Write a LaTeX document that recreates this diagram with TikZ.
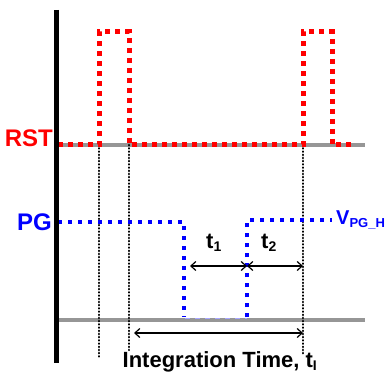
\documentclass[tikz,border=0pt]{standalone}
\usepackage{fontspec}
\setmainfont{Liberation Sans}
\usetikzlibrary{arrows.meta}
\definecolor{rstred}{RGB}{255,0,0}
\definecolor{pgblue}{RGB}{0,0,255}
\definecolor{railgray}{RGB}{150,150,150}
\tikzset{
  rail/.style={draw=railgray,line width=4pt},
  axisline/.style={draw=black,line width=5pt},
  rstsig/.style={draw=rstred,line width=5pt,dash pattern=on 5pt off 5pt},
  pgsig/.style={draw=pgblue,line width=4pt,dash pattern=on 4pt off 6pt},
  pgfaint/.style={draw=pgblue!35,line width=1pt,dash pattern=on 5pt off 5pt},
  guide/.style={draw=black,line width=2.2pt,line cap=round,dash pattern=on 0.4pt off 2.8pt},
  dimarrow/.style={draw=black,line width=1.2pt,{Straight Barb[length=5pt,width=9pt]}-{Straight Barb[length=5pt,width=9pt]}},
  lbl/.style={font=\bfseries\fontsize{24}{24}\selectfont,inner sep=0pt},
  tlbl/.style={font=\bfseries\fontsize{22}{22}\selectfont,inner sep=0pt}
}
\begin{document}
\begin{tikzpicture}[x=1pt,y=-1pt]
\useasboundingbox (0,0) rectangle (385,374);
% coordinates
\coordinate (axT) at (56,10);
\coordinate (axB) at (56,363);
\coordinate (rL) at (58,145);
\coordinate (rR) at (365,145);
\coordinate (gL) at (58,320);
\coordinate (gR) at (365,320);
% guides
\coordinate (g1t) at (99,145);  \coordinate (g1b) at (99,357);
\coordinate (g2t) at (129,145); \coordinate (g2b) at (129,350);
\coordinate (g3t) at (303,145); \coordinate (g3b) at (303,356);
% rails
\draw[rail] (rL) -- (rR);
\draw[rail] (gL) -- (gR);
% guides
\draw[guide] (g1t) -- (g1b);
\draw[guide] (g2t) -- (g2b);
\draw[guide] (g3t) -- (g3b);
% RST signal
\draw[rstsig] (58,145) -- (99,145) -- (99,32) -- (129,32) -- (129,145) -- (303,145) -- (303,32) -- (332,32) -- (332,145) -- (355,145);
% PG signal
\draw[pgfaint] (185,318) -- (247,318);
\draw[pgsig] (58,222) -- (184,222) -- (184,317);
\draw[pgsig] (247,317) -- (247,220) -- (332,220);
% axis
\draw[axisline] (axT) -- (axB);
% labels
\node[lbl,text=rstred,anchor=east] (rst) at (53,138) {RST};
\node[lbl,text=pgblue,anchor=east] (pg) at (52,222) {PG};
\node[inner sep=0pt,anchor=west,text=pgblue,font=\bfseries\fontsize{20}{20}\selectfont] (vpg) at (336,220) {V\textsubscript{\fontsize{13}{13}\selectfont PG\_H}};
% arrows
\coordinate (a1) at (190,266);
\coordinate (a2) at (247,266);
\coordinate (a3) at (303,266);
\draw[dimarrow] (a1) -- (a2);
\draw[dimarrow] (a2) -- (a3);
\coordinate (i1) at (134,333);
\coordinate (i2) at (303,333);
\draw[dimarrow] (i1) -- (i2);
\node[tlbl] (t1) at (214,243) {t\textsubscript{\fontsize{14}{14}\selectfont 1}};
\node[tlbl] (t2) at (269,243) {t\textsubscript{\fontsize{14}{14}\selectfont 2}};
\node[tlbl,anchor=base] (it) at (220,367) {Integration Time, t\textsubscript{\fontsize{14}{14}\selectfont I}};
\end{tikzpicture}
\end{document}
